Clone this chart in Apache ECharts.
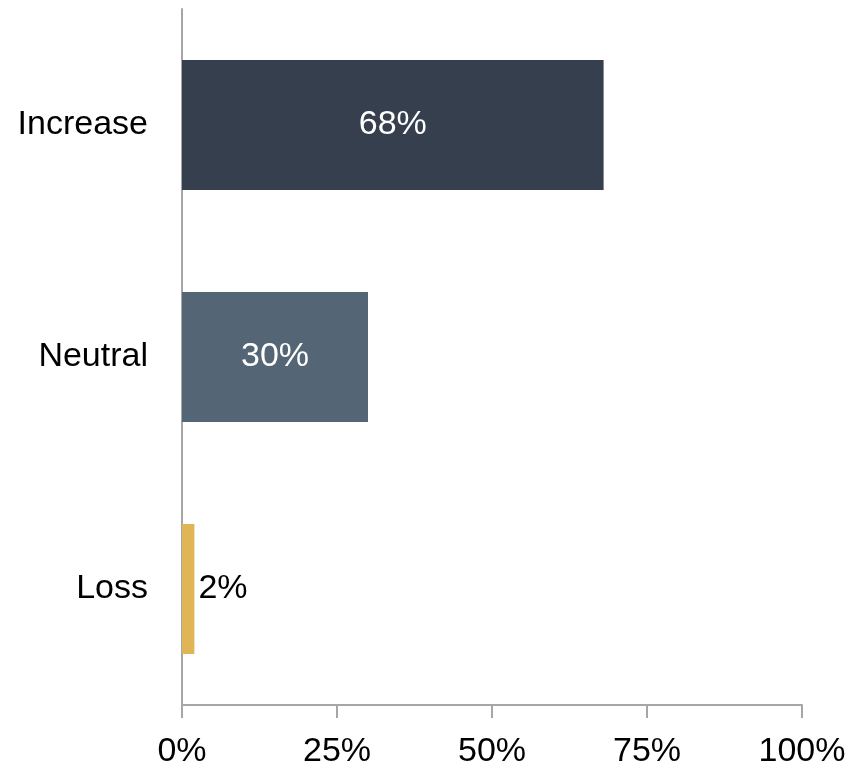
<!DOCTYPE html>
<html><head><meta charset="utf-8">
<script src="https://cdn.jsdelivr.net/npm/echarts@6/dist/echarts.min.js"></script>
<style>html,body{margin:0;padding:0;background:#fff}#c{width:854px;height:769px}</style>
</head><body><div id="c"></div>
<script>
const categories = ['Increase', 'Neutral', 'Loss'];
const values = [68, 30, 2];
const barColors = ['#353F4D', '#546575', '#E0B556'];
const labelColors = ['#ffffff', '#ffffff', '#000000'];
const xTicks = [0, 25, 50, 75, 100];

const chart = echarts.init(document.getElementById('c'));
chart.setOption({
  animation: false,
  grid: { left: 182, right: 52, top: 9, bottom: 64, containLabel: false },
  xAxis: {
    type: 'value', min: 0, max: 100, interval: 25,
    axisLine: { show: true, lineStyle: { color: '#A6A6A6', width: 2 } },
    axisTick: { show: true, length: 13, lineStyle: { color: '#A6A6A6', width: 2 } },
    splitLine: { show: false },
    axisLabel: { formatter: v => v + '%', fontSize: 34, color: '#000', margin: 30, fontFamily: 'Liberation Sans' }
  },
  yAxis: {
    type: 'category', data: categories.slice().reverse(), inverse: false,
    axisLine: { show: true, lineStyle: { color: '#A6A6A6', width: 2 } },
    axisTick: { show: false },
    axisLabel: { fontSize: 34, color: '#000', margin: 34, fontFamily: 'Liberation Sans', padding: [6, 0, 0, 0] }
  },
  series: [{
    type: 'bar', barWidth: '56%',
    data: values.map((v, i) => ({
      value: v,
      itemStyle: { color: barColors[i] },
      label: {
        show: true,
        position: v < 10 ? 'right' : 'inside',
        distance: 4,
        color: labelColors[i],
        fontSize: 34, fontFamily: 'Liberation Sans',
        padding: [6, 0, 0, 0],
        formatter: p => p.value + '%'
      }
    })).reverse()
  }]
});
</script></body></html>
